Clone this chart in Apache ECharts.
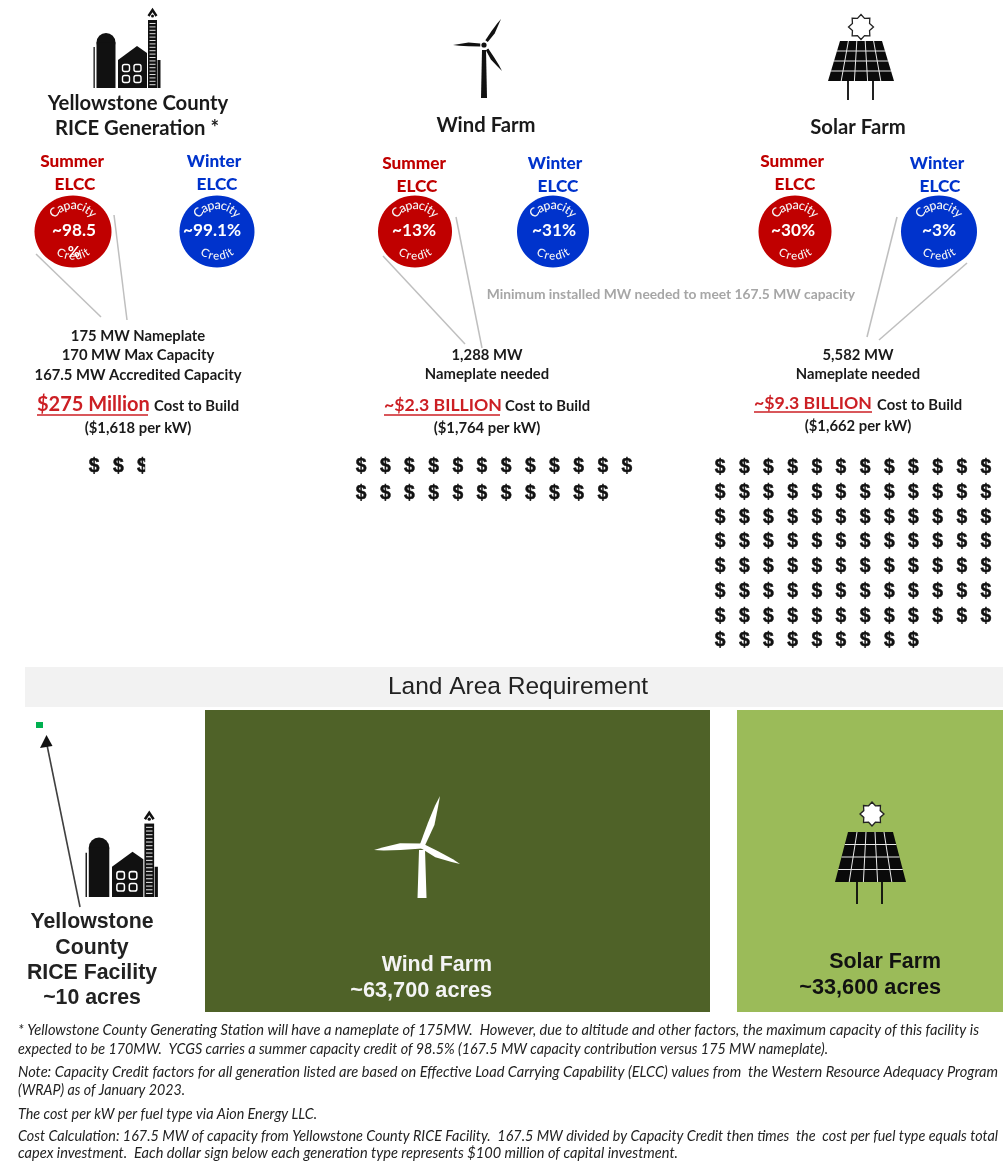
<!DOCTYPE html>
<html><head><meta charset="utf-8">
<style>html,body{margin:0;padding:0;background:#fff}#c{width:1003px;height:1165px}</style>
<script src="https://cdn.jsdelivr.net/npm/echarts@6/dist/echarts.min.js"></script>
</head><body><div id="c"></div>
<script>
// ---- data ----
const seasons = ['Summer', 'Winter'];
const summerCredit = [98.5, 13, 30];
const winterCredit = [99.1, 31, 3];
const costMillions = [275, 2300, 9300];
const millionsPerDollarSign = 100;
const landFacility = ['Yellowstone County RICE Facility', 'Wind Farm', 'Solar Farm'];
const landAcres = [10, 63700, 33600];
const footnotes = [
 '* Yellowstone County Generating Station will have a nameplate of 175MW.  However, due to altitude and other factors, the maximum capacity of this facility is',
 'expected to be 170MW.  YCGS carries a summer capacity credit of 98.5% (167.5 MW capacity contribution versus 175 MW nameplate).',
 'Note: Capacity Credit factors for all generation listed are based on Effective Load Carrying Capability (ELCC) values from  the Western Resource Adequacy Program',
 '(WRAP) as of January 2023.',
 'The cost per kW per fuel type via Aion Energy LLC.',
 'Cost Calculation: 167.5 MW of capacity from Yellowstone County RICE Facility.  167.5 MW divided by Capacity Credit then times  the  cost per fuel type equals total',
 'capex investment.  Each dollar sign below each generation type represents $100 million of capital investment.'
];

// ---- layout ----
const LATO = 'Lato, Carlito, sans-serif', ARIAL = '"Liberation Sans", Arial, sans-serif';
const RED = '#C00000', BLUE = '#0033CC', INK = '#1a1a1a';
const circleGrids = [{left:1,width:288},{left:346,width:276},{left:723,width:288}];
const circleRx = [[38.5,37.5],[37,36],[36.5,38]];
const valueShift = [[1,-5],[-1,1],[-2,0]];
const dollarGrids = [
  {left:82,top:453,width:290,height:27,rows:1},
  {left:349,top:453,width:290,height:54,rows:2},
  {left:708,top:455,width:290,height:198,rows:8}];
const landGrids = [
  {left:36,top:722,width:7,height:6,color:'#00B050'},
  {left:205,top:710,width:505,height:302,color:'#4F6228'},
  {left:737,top:710,width:266,height:302,color:'#9BBB59'}];
const COLS = 12;

const mc = document.createElement('canvas').getContext('2d');
function curvedLetters(str, cx, cy, r, font, smile){
  mc.font = font;
  const widths = [...str].map(c => mc.measureText(c).width + 0.3);
  const total = widths.reduce((a,b)=>a+b,0);
  let pos = -total/2;
  return [...str].map((c,i)=>{
    const a = (pos + widths[i]/2)/r; pos += widths[i];
    const x = cx + r*Math.sin(a), y = smile ? cy + r*Math.cos(a) : cy - r*Math.cos(a);
    return {type:'text', x, y, rotation: smile ? a : -a,
      style:{text:c, fill:'#f4f4f4', font, align:'center', verticalAlign:'middle'}};
  });
}

const grids = [], xAxes = [], yAxes = [], series = [];
function addGrid(g, xa, ya){
  grids.push({left:g.left, top:g.top, width:g.width, height:g.height, containLabel:false, outerBoundsMode:'none'});
  const i = grids.length-1;
  xAxes.push(Object.assign({gridIndex:i, show:false}, xa));
  yAxes.push(Object.assign({gridIndex:i, show:false}, ya));
  return i;
}

// capacity-credit discs
circleGrids.forEach((g,p)=>{
  const i = addGrid({left:g.left, top:196, width:g.width, height:71},
    {type:'category', data:seasons}, {type:'value', min:0, max:1});
  series.push({
    type:'custom', coordinateSystem:'cartesian2d', xAxisIndex:i, yAxisIndex:i, silent:true,
    data:[[0,0.5,summerCredit[p]],[1,0.5,winterCredit[p]]],
    renderItem(params, api){
      const s = api.value(0), pt = api.coord([s, 0.5]), v = api.value(2);
      const cx = pt[0], cy = pt[1], rx = circleRx[p][s];
      const children = [{type:'ellipse', shape:{cx, cy, rx, ry:36}, style:{fill: s===0 ? '#C00000' : '#0033CC'}}];
      children.push(...curvedLetters('Capacity', cx, cy, 26.5, '500 12.5px '+LATO, false));
      children.push(...curvedLetters('Credit', cx, cy, 24.5, '500 11.5px '+LATO, true));
      const wrap = p===0 && s===0, vx = cx + valueShift[p][s];
      children.push({type:'text', x:vx, y:cy-1, style:{text:'~'+v+(wrap?'':'%'), fill:'#fff',
        font:'bold 17.2px '+LATO, align:'center', verticalAlign:'middle'}});
      if (wrap) children.push({type:'text', x:cx+1, y:cy+21, style:{text:'%', fill:'#fff',
        font:'bold 15px '+LATO, align:'center', verticalAlign:'middle'}});
      return {type:'group', children};
    }
  });
});

// dollar signs: one per $100 million, the last one cut to its fraction
dollarGrids.forEach((g,p)=>{
  const i = addGrid(g, {type:'value', min:-0.5, max:COLS-0.5}, {type:'value', min:-0.5, max:g.rows-0.5, inverse:true});
  const n = costMillions[p]/millionsPerDollarSign, pts = [];
  for (let k=0;k<Math.ceil(n);k++) pts.push([k%COLS, Math.floor(k/COLS), Math.min(1, n-k)]);
  series.push({
    type:'custom', coordinateSystem:'cartesian2d', xAxisIndex:i, yAxisIndex:i, silent:true, clip:false,
    data:pts,
    renderItem(params, api){
      const pt = api.coord([api.value(0), api.value(1)]), f = api.value(2), W = 12;
      const el = {type:'text', x:pt[0], y:pt[1], scaleX:0.92, style:{text:'$', fill:'#111', stroke:'#111', lineWidth:0.5,
        font:'bold 21px '+ARIAL, align:'center', verticalAlign:'middle'}};
      if (f<1) el.clipPath = {type:'rect', shape:{x:-W/2, y:-15, width:W*f, height:30}};
      return el;
    }
  });
});

// land-area blocks: each block's width is its acreage on its own scale
landGrids.forEach((g,p)=>{
  const i = addGrid(g, {type:'value', min:0, max:landAcres[p]}, {type:'category', data:[landFacility[p]]});
  series.push({type:'bar', xAxisIndex:i, yAxisIndex:i, silent:true, barWidth:'100%',
    data:[landAcres[p]], itemStyle:{color:g.color}, animation:false});
});

// ---- text and pictograms ----
const G = [];
function T(text,x,y,font,fill,align,extra){G.push(Object.assign({type:'text',z:20,silent:true,x,y,style:{text,font,fill:fill||INK,align:align||'center',verticalAlign:'middle'}},extra||{}));}
function L(x1,y1,x2,y2,stroke,w){G.push({type:'line',z:20,silent:true,shape:{x1,y1,x2,y2},style:{stroke,lineWidth:w||1.5}});}

const title='bold 20.3px '+LATO;
T('Yellowstone County',138,103,title);
T('RICE Generation *',137,128,title);
T('Wind Farm',486,125,title);
T('Solar Farm',858,127,title);
const head = '900 17.2px '+LATO;
[[72,161,75,184],[414,163,417,186],[792,161,795,184]].forEach(a=>{T('Summer',a[0],a[1],head,RED);T('ELCC',a[2],a[3],head,RED);});
[[214,161,217,184],[555,163,558,186],[937,163,940,186]].forEach(a=>{T('Winter',a[0],a[1],head,BLUE);T('ELCC',a[2],a[3],head,BLUE);});
const C='#BFBFBF';
L(36,254,101,317,C);L(114,215,127,320,C);L(383,256,465,344,C);L(456,217,482,348,C);L(897,217,867,337,C);L(967,263,879,340,C);
T('Minimum installed MW needed to meet 167.5 MW capacity',671,295,'bold 13.8px '+LATO,'#A6A6A6');
const b='bold 14.8px '+LATO;
T('175 MW Nameplate',138,336,b);T('170 MW Max Capacity',138,355,b);T('167.5 MW Accredited Capacity',138,375,b);
T('1,288 MW',487,355,b);T('Nameplate needed',487,374,b);
T('5,582 MW',858,355,b);T('Nameplate needed',858,374,b);
const big='bold 20px '+LATO, big2='bold 17.7px '+LATO, CR='#CC1F24';
T('$275 Million',37,405,big,CR,'left');L(37,415,148,415,CR,1.5);T('Cost to Build',154,406,b,INK,'left');
T('~$2.3 BILLION',384,405,big2,CR,'left');L(384,415,500,415,CR,1.5);T('Cost to Build',505,406,b,INK,'left');
T('~$9.3 BILLION',754,403,big2,CR,'left');L(754,412,872,412,CR,1.5);T('Cost to Build',877,405,b,INK,'left');
T('($1,618 per kW)',138,428,b);T('($1,764 per kW)',487,428,b);T('($1,662 per kW)',858,426,b);

G.push({type:'rect',z:1,silent:true,shape:{x:25,y:667,width:978,height:40},style:{fill:'#F2F2F2'}});
T('Land Area Requirement',518,687,'24.5px '+ARIAL,'#222');

// arrow
L(80,907,47,745,'#404040',1.6);
G.push({type:'polygon',z:20,silent:true,shape:{points:[[46.5,735],[52.5,746],[40,748]]},style:{fill:'#111'}});

const A='bold 21.3px '+ARIAL;
T('Yellowstone',92,922,A,'#222');T('County',92,948,A,'#222');T('RICE Facility',92,973,A,'#222');T('~10 acres',92,998,A,'#222');
T('Wind Farm',492,965,'bold 21.4px '+ARIAL,'#f4f4f4','right');T('~63,700 acres',492,991,'bold 21.7px '+ARIAL,'#f4f4f4','right');
T('Solar Farm',941,962,'bold 21.4px '+ARIAL,'#111','right');T('~33,600 acres',941,988,'bold 21.7px '+ARIAL,'#111','right');

// footnotes: each line is stretched a touch to end where the reference line ends
const noteY=[1030,1049,1072,1090,1114,1136,1153], noteEnd=[979,828,998,185,317,998,678], noteFont='italic 14.5px '+LATO;
mc.font=noteFont;
footnotes.forEach((t,i)=>T(t,18,noteY[i],noteFont,'#222','left',{scaleX:(noteEnd[i]-18)/mc.measureText(t).width}));

// plant pictogram, drawn in the coordinates of the top copy
function plant(ox,oy,k){
  const ch=[];const K='#111';
  const R=(x,y,w,h,f)=>ch.push({type:'rect',shape:{x,y,width:w,height:h},style:{fill:f||K}});
  R(93.5,47,1.3,41);
  ch.push({type:'circle',shape:{cx:106,cy:42.5,r:9.5},style:{fill:K}});
  R(96.5,42.5,19,45.5);
  ch.push({type:'polygon',shape:{points:[[118,60],[137,46],[147,53],[147,88],[118,88]]},style:{fill:K}});
  [[122.5,64.5],[134,64.5],[122.5,75.5],[134,75.5]].forEach(p=>ch.push({type:'rect',shape:{x:p[0],y:p[1],width:7,height:7,r:2},style:{fill:K,stroke:'#fff',lineWidth:1.4}}));
  R(148,20,9,68);
  for(let y=23;y<87;y+=3.4) R(149.5,y,6,1,'#ddd');
  R(157.5,60,3,28);
  ch.push({type:'polyline',shape:{points:[[148.5,16],[152.5,10],[156.5,16]]},style:{stroke:K,lineWidth:2.4,fill:'none'}});
  ch.push({type:'circle',shape:{cx:152.5,cy:16,r:1.5},style:{fill:K}});
  G.push({type:'group',silent:true,x:ox,y:oy,scaleX:k,scaleY:k,children:ch});
}
plant(0,0,1);
plant(85-93*1.08,897-88*1.08,1.08);

function blade(hx,hy,tx,ty,w,peak,start,fill){
  const dx=tx-hx,dy=ty-hy,len=Math.hypot(dx,dy),ux=dx/len,uy=dy/len,nx=-uy,ny=ux;
  const P=(s,o)=>[hx+ux*s*len+nx*o,hy+uy*s*len+ny*o];
  return {type:'polygon',shape:{points:[P(start,w*0.55),P(peak,w),P(0.8,w*0.4),P(1,0),P(0.8,-w*0.3),P(peak,-w*0.5),P(start,-w*0.55)]},style:{fill}};
}
G.push({type:'group',silent:true,children:[
  {type:'polygon',shape:{points:[[482,50],[486,50],[487,98],[481,98]]},style:{fill:'#111'}},
  blade(484,45,453,45,2.6,0.5,0.12,'#111'),blade(484,45,501,19,2.6,0.5,0.15,'#111'),blade(484,45,502,71,2.6,0.5,0.17,'#111'),
  {type:'circle',shape:{cx:484,cy:45,r:2.6},style:{fill:'#111'}},
  {type:'polygon',shape:{points:[[419,850],[425,850],[426.5,898],[417.5,898]]},style:{fill:'#fff'}},
  blade(422,846,440,796,4.6,0.45,0,'#fff'),blade(422,846,374,850,4.6,0.45,0,'#fff'),blade(422,846,460,864,4.4,0.4,0,'#fff')
]});

function solar(tl,tr,ty,bl,br,by,legs,legEnd,sx,sy,sr){
  const K='#0a0a0a',ch=[];
  ch.push({type:'polygon',shape:{points:[[tl,ty],[tr,ty],[br,by],[bl,by]]},style:{fill:K}});
  for(let i=1;i<5;i++){const f=i/5;ch.push({type:'line',shape:{x1:tl+(tr-tl)*f,y1:ty,x2:bl+(br-bl)*f,y2:by},style:{stroke:'#e8e8e8',lineWidth:1}});}
  for(let i=1;i<4;i++){const f=i/4,y=ty+(by-ty)*f;ch.push({type:'line',shape:{x1:tl+(bl-tl)*f,y1:y,x2:tr+(br-tr)*f,y2:y},style:{stroke:'#e8e8e8',lineWidth:1}});}
  legs.forEach(x=>ch.push({type:'line',shape:{x1:x,y1:by,x2:x,y2:legEnd},style:{stroke:K,lineWidth:1.8}}));
  const star=[];for(let i=0;i<16;i++){const a=i*Math.PI/8,r=i%2?sr*0.74:sr;star.push([sx+r*Math.sin(a),sy-r*Math.cos(a)]);}
  ch.push({type:'polygon',shape:{points:star},style:{fill:'#fff',stroke:'#222',lineWidth:1.3}});
  G.push({type:'group',silent:true,children:ch});
}
solar(840,882,41,828,894,81,[848,873],100,861,27,12.5);
solar(848,893,832,835,906,882,[857,882],904,872,814,12);

// children of a graphic group do not inherit its z, so lift them above the blocks
(function lift(list){list.forEach(e=>{if(e.children)lift(e.children);else if(e.z==null)e.z=20;});})(G);

const chart = echarts.init(document.getElementById('c'),null,{renderer:'canvas'});
chart.setOption({animation:false,backgroundColor:'#fff',tooltip:{show:false},
  grid:grids,xAxis:xAxes,yAxis:yAxes,series:series,graphic:{elements:G}});
</script></body></html>
